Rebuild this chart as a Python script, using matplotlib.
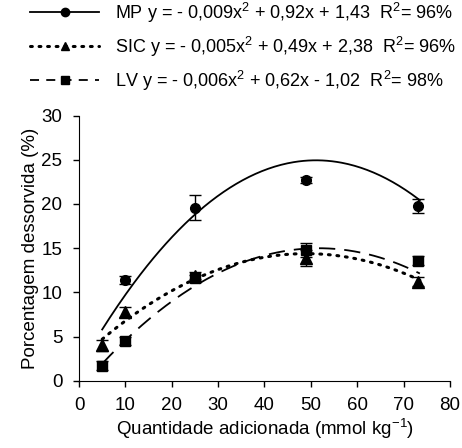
import numpy as np
import matplotlib.pyplot as plt

plt.rcParams['font.family'] = ['Liberation Sans', 'DejaVu Sans']
plt.rcParams['mathtext.fontset'] = 'custom'
plt.rcParams['mathtext.rm'] = 'Liberation Sans'
plt.rcParams['mathtext.it'] = 'Liberation Sans'

# measured points (mmol kg-1, % dessorvida) and error bars
x_pts = [5, 10, 25, 49, 73]
mp = [1.7, 11.4, 19.6, 22.7, 19.8]
mp_err = [0.0, 0.4, 1.4, 0.3, 0.8]
sic = [4.0, 7.8, 11.9, 13.9, 11.2]
sic_err = [0.6, 0.6, 0.4, 0.9, 0.5]
lv = [1.7, 4.5, 11.6, 14.8, 13.6]
lv_err = [0.5, 0.5, 0.4, 0.8, 0.5]

# fitted quadratic coefficients (from the legend)
mp_fit = [-0.009, 0.92, 1.43]
sic_fit = [-0.005, 0.49, 2.38]
lv_fit = [-0.006, 0.62, -1.02]

labels = [r'MP y = - 0,009x$^2$ + 0,92x + 1,43  R$^2$= 96%',
          r'SIC y = - 0,005x$^2$ + 0,49x + 2,38  R$^2$= 96%',
          r'LV y = - 0,006x$^2$ + 0,62x - 1,02  R$^2$= 98%']

fig = plt.figure(figsize=(4.62, 4.48), dpi=100)
ax = fig.add_axes([0.171, 0.15, 0.803, 0.592])

xs = np.linspace(5, 73.5, 200)

ax.plot(xs, np.polyval(mp_fit, xs), color='black', lw=1.3, ls='-')
ax.plot(xs, np.polyval(sic_fit, xs), color='black', lw=2.2, ls=(0, (0.6, 2.2)),
        dash_capstyle='round')
ax.plot(xs, np.polyval(lv_fit, xs), color='black', lw=1.3, ls=(0, (9, 5)))

ax.errorbar(x_pts[1:], mp[1:], yerr=mp_err[1:], fmt='o', color='black', ms=7,
            capsize=4, elinewidth=1, capthick=1)
ax.errorbar(x_pts, sic, yerr=sic_err, fmt='^', color='black', ms=8,
            capsize=4, elinewidth=1, capthick=1)
ax.errorbar(x_pts, lv, yerr=lv_err, fmt='s', color='black', ms=7,
            capsize=4, elinewidth=1, capthick=1)

# legend handles
h1, = ax.plot([], [], color='black', lw=1.3, marker='o', ms=6)
h2, = ax.plot([], [], color='black', lw=2.2, ls=(0, (0.6, 2.2)),
              dash_capstyle='round', marker='^', ms=6)
h3, = ax.plot([], [], color='black', lw=1.3, ls=(0, (5, 4)), marker='s', ms=6)
fig.legend([h1, h2, h3], labels, loc='upper left', bbox_to_anchor=(0.05, 1.015),
           frameon=False, fontsize=13, handlelength=3.8, labelspacing=0.55,
           handletextpad=0.9, borderaxespad=0.0)

ax.set_xlim(0, 80)
ax.set_ylim(0, 30)
ax.set_xticks(np.arange(0, 81, 10))
ax.set_yticks(np.arange(0, 31, 5))
ax.spines['top'].set_visible(False)
ax.spines['right'].set_visible(False)
ax.tick_params(labelsize=13.5, length=4, width=1)
ax.tick_params(axis='x', pad=8)
ax.tick_params(axis='y', pad=8)
ax.set_xlabel(r'Quantidade adicionada (mmol kg$^{-1}$)', fontsize=13.5, labelpad=2)
ax.set_ylabel('Porcentagem dessorvida (%)', fontsize=13.5, labelpad=2)

fig.savefig('out.png', dpi=100)
